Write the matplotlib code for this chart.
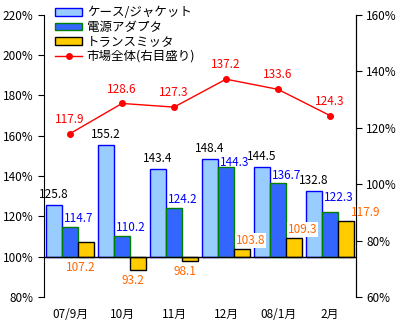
import matplotlib
matplotlib.use("Agg")
import matplotlib.pyplot as plt
import numpy as np

plt.rcParams['font.family'] = ['Noto Sans CJK JP', 'DejaVu Sans']

categories = ["07/9月", "10月", "11月", "12月", "08/1月", "2月"]
case_jacket = [125.8, 155.2, 143.4, 148.4, 144.5, 132.8]
adapter = [114.7, 110.2, 124.2, 144.3, 136.7, 122.3]
transmitter = [107.2, 93.2, 98.1, 103.8, 109.3, 117.9]
market = [117.9, 128.6, 127.3, 137.2, 133.6, 124.3]
left_ticks = [80, 100, 120, 140, 160, 180, 200, 220]
right_ticks = [60, 80, 100, 120, 140, 160]

fig = plt.figure(figsize=(4, 3.3), dpi=100)
ax = fig.add_axes([0.11, 0.10, 0.78, 0.855])
ax2 = ax.twinx()

x = np.arange(len(categories))
w = 0.31
fs = 8.5

ax.bar(x - w, np.array(case_jacket) - 100, w, bottom=100, color='#99CCFF', edgecolor='#0000FF', linewidth=1, label='ケース/ジャケット', zorder=2)
ax.bar(x, np.array(adapter) - 100, w, bottom=100, color='#3366FF', edgecolor='#008000', linewidth=1, label='電源アダプタ', zorder=2)
ax.bar(x + w, np.array(transmitter) - 100, w, bottom=100, color='#FFCC00', edgecolor='#000000', linewidth=1, label='トランスミッタ', zorder=2)
ax.axhline(100, color='black', linewidth=1, zorder=3)

# label nudges (style only)
blue_dy = [1.0, 1.0, 1.0, -1.0, 0.5, 4.0]
last = len(categories) - 1
for i in range(len(categories)):
    ax.text(x[i] - w, case_jacket[i] + 2, f"{case_jacket[i]:.1f}", ha='center', va='bottom', fontsize=fs, color='black', zorder=5)
    ax.text(x[i] + 0.16, adapter[i] + blue_dy[i], f"{adapter[i]:.1f}", ha='center', va='bottom', fontsize=fs, color='#0000FF', zorder=5)
    if i < 3:
        yv = min(transmitter[i], 100) - 2
        ax.text(x[i] + w - 0.1, yv, f"{transmitter[i]:.1f}", ha='center', va='top', fontsize=fs, color='#FF6600', zorder=5)
    else:
        dx = 0.69 if i == last else 0.47
        ax.text(x[i] + dx, transmitter[i] + 1, f"{transmitter[i]:.1f}", ha='center', va='bottom', fontsize=fs, color='#FF6600', zorder=5,
                bbox=dict(facecolor='white', edgecolor='none', pad=0.5), clip_on=False)

ax2.plot(x, market, color='#FF0000', linewidth=1, marker='o', markersize=4, label='市場全体(右目盛り)', zorder=4)
for i in range(len(categories)):
    ax2.text(x[i], market[i] + 2.8, f"{market[i]:.1f}", ha='center', va='bottom', fontsize=fs, color='#FF0000')

ax.set_xlim(-0.5, len(categories) - 0.5)
ax.set_ylim(80, 220)
ax2.set_ylim(60, 160)
ax.set_yticks(left_ticks)
ax.set_yticklabels([f"{t}%" for t in left_ticks], fontsize=fs)
ax2.set_yticks(right_ticks)
ax2.set_yticklabels([f"{t}%" for t in right_ticks], fontsize=fs)
ax.set_xticks(x)
ax.set_xticklabels(categories, fontsize=fs)
ax.tick_params(axis='x', length=0, pad=8)
ax.tick_params(axis='y', direction='out', length=4)
ax2.tick_params(axis='y', direction='out', length=4)

for a in (ax, ax2):
    a.spines['top'].set_visible(False)
    a.spines['bottom'].set_visible(False)
ax2.spines['left'].set_visible(False)

ax2.set_zorder(ax.get_zorder() + 1)
ax2.patch.set_visible(False)

h1, l1 = ax.get_legend_handles_labels()
h2, l2 = ax2.get_legend_handles_labels()
leg = ax2.legend(h1 + h2, l1 + l2, loc='upper left', bbox_to_anchor=(0.035, 1.03), fontsize=9, frameon=False,
                 handlelength=2.2, handleheight=0.6, labelspacing=0.12, borderaxespad=0, borderpad=0, handletextpad=0.35)

fig.savefig("out.png", dpi=100)
